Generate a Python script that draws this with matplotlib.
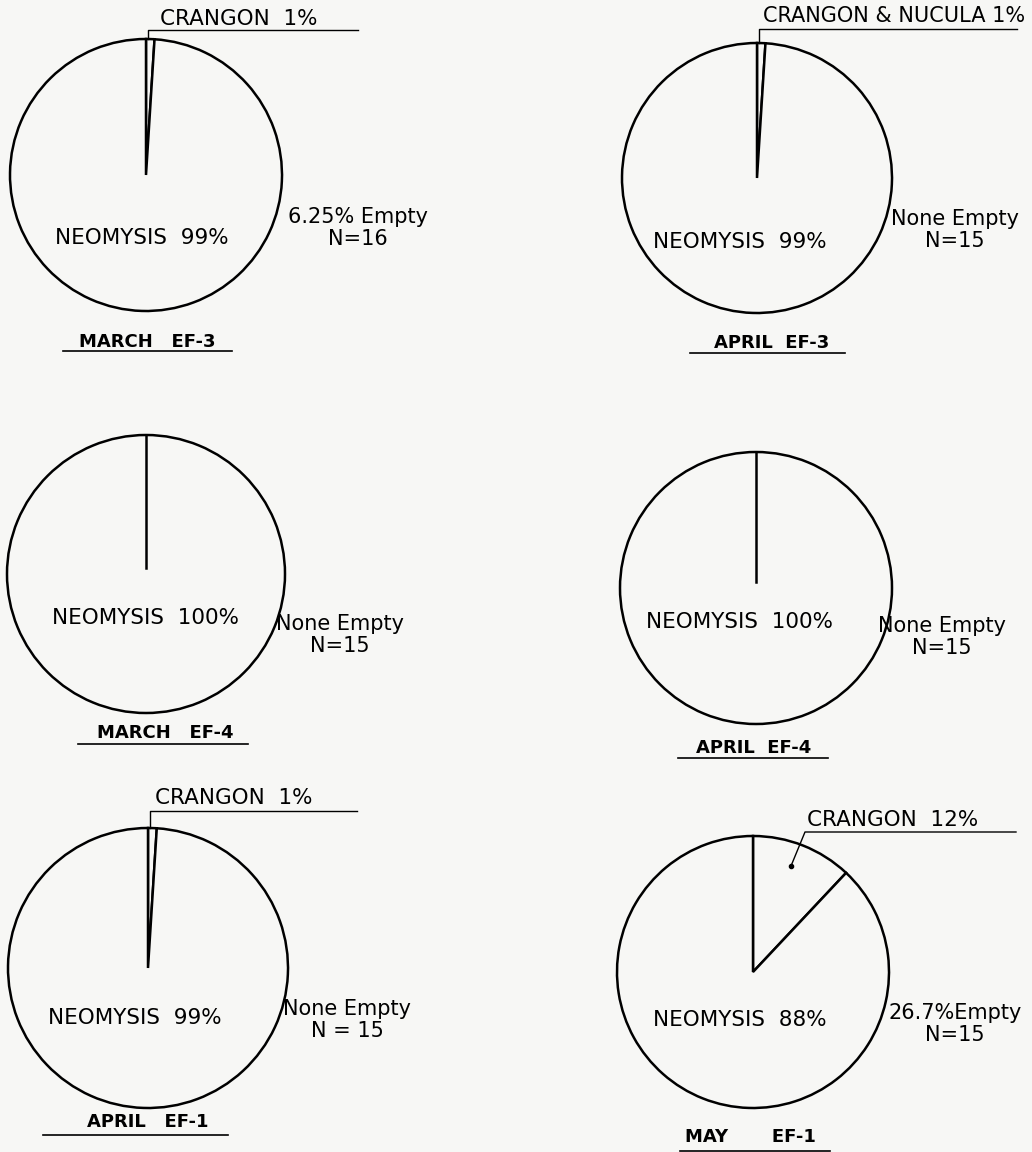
import matplotlib
matplotlib.use('Agg')
import matplotlib.pyplot as plt

# stomach contents, percent by panel
titles = ['MARCH   EF-3', 'APRIL  EF-3', 'MARCH   EF-4', 'APRIL  EF-4', 'APRIL   EF-1', 'MAY       EF-1']
neomysis = [99, 99, 100, 100, 99, 88]
other = [1, 1, 0, 0, 1, 12]
other_names = ['CRANGON', 'CRANGON & NUCULA', None, None, 'CRANGON', 'CRANGON']
empty = ['6.25% Empty', 'None Empty', 'None Empty', 'None Empty', 'None Empty', '26.7%Empty']
n_fish = [16, 15, 15, 15, 15, 15]

W, H = 1032, 1152
bg = '#f7f7f5'
fig = plt.figure(figsize=(W / 100, H / 100), dpi=100)
fig.patch.set_facecolor(bg)
ax = fig.add_axes([0, 0, 1, 1])
ax.set_facecolor(bg)

def Y(y):
    # image pixel row -> axes y
    return H - y

# layout in image pixels: pie centre, radius, text spots
centers = [(146, 175), (757, 178), (146, 574), (756, 588), (148, 968), (753, 972)]
radii = [136, 135, 139, 136, 140, 136]
neo_pos = [(142, 238), (740, 242), (145, 618), (740, 622), (135, 1018), (740, 1020)]
empty_pos = [(358, 228), (955, 230), (340, 635), (942, 637), (347, 1020), (955, 1024)]
title_pos = [(147, 342), (772, 343), (165, 733), (754, 748), (148, 1122), (750, 1137)]
title_line = [(63, 232, 351), (690, 845, 353), (78, 248, 744), (678, 828, 758), (43, 228, 1135), (680, 830, 1151)]
label_pos = [(160, 19, 358, 30), (763, 16, 1017, 29), None, None, (155, 798, 357, 811), (807, 820, 1016, 832)]

fs = 15.5
for i in range(6):
    cx, cy = centers[i]
    r = radii[i]
    ax.pie([other[i], neomysis[i]], center=(cx, Y(cy)), radius=r,
           startangle=90, counterclock=False,
           wedgeprops=dict(facecolor=bg, edgecolor='black', linewidth=1.8))
    if other[i] == 0:
        # single radius drawn on the all-neomysis pies
        ax.plot([cx, cx], [Y(cy) + 6, Y(cy) + r], color='black', lw=1.8)

    ax.text(neo_pos[i][0], Y(neo_pos[i][1]), f'NEOMYSIS  {neomysis[i]}%',
            ha='center', va='center', fontsize=fs)
    n_txt = f'N = {n_fish[i]}' if i == 4 else f'N={n_fish[i]}'
    ax.text(empty_pos[i][0], Y(empty_pos[i][1]), empty[i] + '\n' + n_txt,
            ha='center', va='center', fontsize=fs - 0.5, linespacing=1.1)

    tx, ty = title_pos[i]
    ax.text(tx, Y(ty), titles[i], ha='center', va='center', fontsize=13, fontweight='bold')
    x0, x1, ly = title_line[i]
    ax.plot([x0, x1], [Y(ly), Y(ly)], color='black', lw=1.2)

    if other_names[i] is not None:
        lx, lty, lx1, lly = label_pos[i]
        gap = ' ' if i == 1 else '  '
        ax.text(lx, Y(lty), f'{other_names[i]}{gap}{other[i]}%', ha='left', va='center',
                fontsize=fs if i != 1 else fs - 0.5)
        if other[i] > 1:
            # dot inside wedge with leader up to the label line
            dx, dy = 791, 866
            ax.plot([dx], [Y(dy)], 'o', color='black', ms=3)
            ax.plot([dx, lx - 2, lx1], [Y(dy), Y(lly), Y(lly)], color='black', lw=1)
        else:
            top = cy - r
            ax.plot([cx + 2, cx + 2, lx1], [Y(top), Y(lly), Y(lly)], color='black', lw=1)

ax.set_xlim(0, W)
ax.set_ylim(0, H)
ax.set_aspect('auto')
ax.axis('off')
fig.savefig('out.png', dpi=100, facecolor=fig.get_facecolor())
